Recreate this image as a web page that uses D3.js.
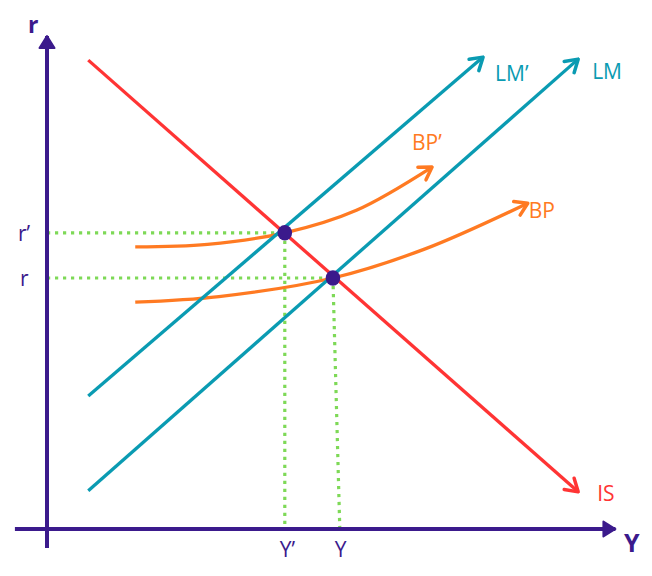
<!DOCTYPE html>
<html>
<head>
<meta charset="utf-8">
<script src="https://cdn.jsdelivr.net/npm/d3@7"></script>
<style>
  html, body { margin: 0; padding: 0; background: #fff; }
  svg { display: block; font-family: "Open Sans", sans-serif; }
</style>
</head>
<body>
<div id="chart"></div>
<script>
// curve data in chart units (Y along x, r along y), both 0..100
const isCurve = [[7.2, 93.4], [92.7, 7.4]];
const lmPrime = [[7.2, 26.5], [76.1, 94.0]];
const lm = [[7.2, 7.6], [92.7, 93.6]];
const bpPrime = [[15.4, 56.2], [28, 56.7], [41.5, 59.0], [54, 63.5], [67.2, 72.1]];
const bp = [[15.4, 45.2], [30, 46.3], [49.9, 50.0], [66, 55.8], [83.9, 64.9]];

// equilibria: [Y, r]
const eqNew = [41.5, 59.0];
const eqOld = [49.9, 50.0];
const yTickOld = 51.1;   // where the dotted guide from the old equilibrium meets the Y axis

const curveLabels = ['IS', 'LM\u2019', 'LM', 'BP\u2019', 'BP'];
const tickLabelsY = ['Y\u2019', 'Y'];
const tickLabelsR = ['r\u2019', 'r'];

const W = 652, H = 576;
const purple = '#3b1a8c', red = '#ff3434', teal = '#0a9bb2',
      orange = '#ff7a22', green = '#7ed957';

const x = d3.scaleLinear().domain([0, 100]).range([47, 620]);
const y = d3.scaleLinear().domain([0, 100]).range([529, 27]);

const svg = d3.select('#chart').append('svg')
    .attr('width', W)
    .attr('height', H);

const defs = svg.append('defs');

function chevron(id, color) {
    defs.append('marker')
        .attr('id', id)
        .attr('markerUnits', 'userSpaceOnUse')
        .attr('viewBox', '-16 -10 18 20')
        .attr('markerWidth', 18)
        .attr('markerHeight', 20)
        .attr('refX', 0)
        .attr('refY', 0)
        .attr('orient', 'auto')
        .append('path')
        .attr('d', 'M-12,-7.5L0,0L-12,7.5')
        .attr('fill', 'none')
        .attr('stroke', color)
        .attr('stroke-width', 3.5)
        .attr('stroke-linecap', 'round')
        .attr('stroke-linejoin', 'round');
}
chevron('arrRed', red);
chevron('arrTeal', teal);
chevron('arrOrange', orange);

defs.append('marker')
    .attr('id', 'arrAxis')
    .attr('markerUnits', 'userSpaceOnUse')
    .attr('viewBox', '-16 -10 18 20')
    .attr('markerWidth', 18)
    .attr('markerHeight', 20)
    .attr('refX', 0)
    .attr('refY', 0)
    .attr('orient', 'auto')
    .append('path')
    .attr('d', 'M-12,-7.5L0,0L-12,7.5Z')
    .attr('fill', purple)
    .attr('stroke', purple)
    .attr('stroke-width', 2)
    .attr('stroke-linejoin', 'round');

const line = d3.line().x(d => x(d[0])).y(d => y(d[1]));
const smooth = d3.line().x(d => x(d[0])).y(d => y(d[1])).curve(d3.curveCatmullRom.alpha(0.5));

// dotted guides
const guides = [
    [[0, eqNew[1]], eqNew],
    [eqNew, [eqNew[0], 0]],
    [[0, eqOld[1]], eqOld],
    [eqOld, [yTickOld, 0]]
];
svg.append('g').selectAll('path')
    .data(guides)
    .join('path')
    .attr('d', line)
    .attr('fill', 'none')
    .attr('stroke', green)
    .attr('stroke-width', 3.2)
    .attr('stroke-dasharray', '3.2 4.8');

// axes
svg.append('path')
    .attr('d', line([[0, -3.8], [0, 98.2]]))
    .attr('stroke', purple)
    .attr('stroke-width', 4)
    .attr('marker-end', 'url(#arrAxis)');
svg.append('path')
    .attr('d', line([[-5.6, 0], [99.2, 0]]))
    .attr('stroke', purple)
    .attr('stroke-width', 4)
    .attr('marker-end', 'url(#arrAxis)');

// curves
const curves = [
    { pts: bpPrime, gen: smooth, color: orange, marker: 'arrOrange' },
    { pts: bp, gen: smooth, color: orange, marker: 'arrOrange' },
    { pts: lmPrime, gen: line, color: teal, marker: 'arrTeal' },
    { pts: lm, gen: line, color: teal, marker: 'arrTeal' },
    { pts: isCurve, gen: line, color: red, marker: 'arrRed' }
];
svg.append('g').selectAll('path')
    .data(curves)
    .join('path')
    .attr('d', d => d.gen(d.pts))
    .attr('fill', 'none')
    .attr('stroke', d => d.color)
    .attr('stroke-width', 3.3)
    .attr('stroke-linecap', 'butt')
    .attr('marker-end', d => `url(#${d.marker})`);

// equilibrium dots
svg.append('g').selectAll('ellipse')
    .data([eqNew, eqOld])
    .join('ellipse')
    .attr('cx', d => x(d[0]))
    .attr('cy', d => y(d[1]))
    .attr('rx', 7.3)
    .attr('ry', 7.8)
    .attr('fill', purple);

// curve labels, placed next to arrow tips
const labelSpecs = [
    { t: curveLabels[0], at: isCurve[1], dx: 19, dy: 9, c: red },
    { t: curveLabels[1], at: lmPrime[1], dx: 12, dy: 24, c: teal },
    { t: curveLabels[2], at: lm[1], dx: 14, dy: 20, c: teal },
    { t: curveLabels[3], at: bpPrime[bpPrime.length - 1], dx: -20, dy: -17, c: orange },
    { t: curveLabels[4], at: bp[bp.length - 1], dx: 1, dy: 15, c: orange }
];
svg.append('g').selectAll('text')
    .data(labelSpecs)
    .join('text')
    .attr('x', d => x(d.at[0]) + d.dx)
    .attr('y', d => y(d.at[1]) + d.dy)
    .attr('fill', d => d.c)
    .attr('font-size', 21)
    .text(d => d.t);

// tick labels
svg.append('g').selectAll('text')
    .data([[tickLabelsY[0], eqNew[0], -5], [tickLabelsY[1], yTickOld, -5]])
    .join('text')
    .attr('x', d => x(d[1]) + d[2])
    .attr('y', y(0) + 28)
    .attr('fill', purple)
    .attr('font-size', 21)
    .text(d => d[0]);

svg.append('g').selectAll('text')
    .data([[tickLabelsR[0], eqNew[1], 18], [tickLabelsR[1], eqOld[1], 20]])
    .join('text')
    .attr('x', d => d[2])
    .attr('y', d => y(d[1]) + 8)
    .attr('fill', purple)
    .attr('font-size', 21)
    .text(d => d[0]);

// axis titles
svg.append('text')
    .attr('x', x(0) - 19)
    .attr('y', y(100) + 6)
    .attr('fill', purple)
    .attr('font-size', 23)
    .attr('font-weight', 700)
    .text('r');
svg.append('text')
    .attr('x', x(100) + 4)
    .attr('y', y(0) + 23)
    .attr('fill', purple)
    .attr('font-size', 25)
    .attr('font-weight', 700)
    .text('Y');
</script>
</body>
</html>
